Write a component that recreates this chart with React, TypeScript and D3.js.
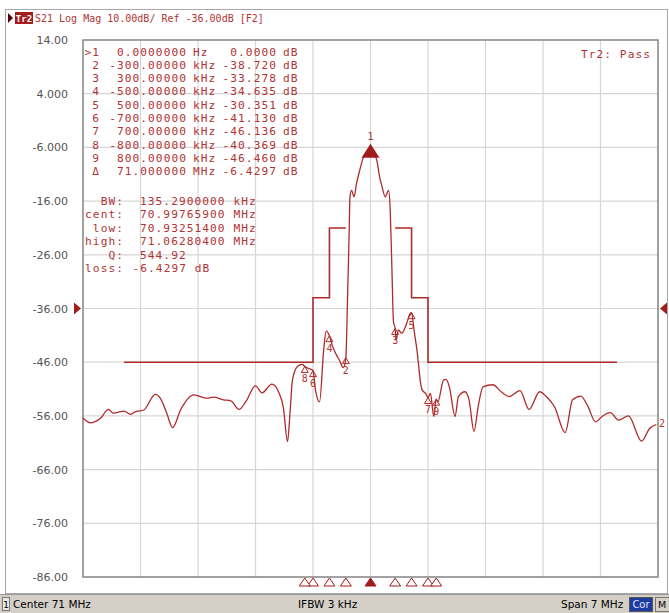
import React from "react";
import * as d3 from "d3";

// ---- data ----
const yTickValues = [14, 4, -6, -16, -26, -36, -46, -56, -66, -76, -86];
const yTickLabels = ["14.00", "4.000", "-6.000", "-16.00", "-26.00", "-36.00", "-46.00", "-56.00", "-66.00", "-76.00", "-86.00"];

const traceFreqMHz = [
  67.50, 67.59, 67.71, 67.81, 67.87, 68.00, 68.08, 68.14, 68.24, 68.38, 68.44, 68.52, 68.59, 68.69, 68.85,
  69.01, 69.09, 69.21, 69.30, 69.40, 69.48, 69.60, 69.68, 69.80, 69.88, 69.94, 69.99, 70.02, 70.05, 70.11,
  70.17, 70.20, 70.25, 70.30, 70.33, 70.38, 70.43, 70.46, 70.50, 70.54, 70.58, 70.62, 70.67, 70.70, 70.72,
  70.74, 70.75, 70.77, 70.80, 70.83, 70.87, 70.91, 70.96, 71.00, 71.04, 71.08, 71.11, 71.14, 71.18, 71.22,
  71.24, 71.26, 71.28, 71.30, 71.31, 71.34, 71.38, 71.44, 71.48, 71.50, 71.53, 71.57, 71.61, 71.63, 71.67,
  71.70, 71.73, 71.77, 71.80, 71.82, 71.89, 71.92, 71.96, 72.03, 72.07, 72.15, 72.20, 72.26, 72.31, 72.37,
  72.49, 72.59, 72.69, 72.82, 72.93, 73.06, 73.14, 73.24, 73.37, 73.46, 73.56, 73.64, 73.74, 73.82, 73.92,
  74.02, 74.14, 74.30, 74.40, 74.48,
];
const traceDb = [
  -56.4, -57.3, -56.5, -54.8, -55.5, -55.1, -55.7, -55.2, -54.9, -52.0, -52.7, -55.5, -58.2, -54.8, -52.1,
  -52.7, -52.5, -53.0, -53.2, -54.8, -53.4, -50.4, -51.7, -50.1, -51.5, -54.5, -60.8, -55.5, -49.3, -46.8,
  -46.4, -46.8, -47.2, -47.56, -51.2, -53.4, -43.7, -40.2, -41.06, -43.1, -44.5, -45.6, -47.0, -45.15, -34.4,
  -22.0, -15.2, -14.0, -15.2, -12.7, -10.2, -8.0, -6.7, -6.43, -7.0, -8.6, -11.4, -13.3, -15.2, -14.0,
  -17.7, -28.2, -38.5, -39.71, -41.9, -40.0, -40.6, -38.8, -37.0, -36.78, -40.0, -44.3, -49.9, -51.2, -51.8,
  -52.57, -51.8, -56.1, -52.89, -53.4, -49.3, -49.2, -50.6, -56.1, -52.4, -51.5, -53.0, -58.9, -54.3, -50.6,
  -50.2, -51.5, -52.4, -51.3, -54.8, -51.5, -52.4, -54.3, -59.1, -53.0, -52.3, -54.0, -57.1, -56.1, -55.4,
  -56.8, -56.0, -60.7, -58.3, -57.6,
];

const limitLeftFreq = [68.0, 70.3, 70.3, 70.5, 70.5, 70.7];
const limitLeftDb = [-46, -46, -34, -34, -21, -21];
const limitRightFreq = [71.3, 71.5, 71.5, 71.7, 71.7, 74.0];
const limitRightDb = [-21, -21, -34, -34, -46, -46];

const markerIds = ["1", "2", "3", "4", "5", "6", "7", "8", "9"];
const markerOffsetKHz = [0, -300, 300, -500, 500, -700, 700, -800, 800];
const markerRelDb = [0, -38.72, -33.278, -34.635, -30.351, -41.13, -46.136, -40.369, -46.46];
const refMarkerDb = -6.4297;
const centerMHz = 71;
const spanMHz = 7;
const refLevelDb = -36;

const tableIds = [">1", "2", "3", "4", "5", "6", "7", "8", "9", "\u0394"];
const tableFreq = ["0.0000000", "-300.00000", "300.00000", "-500.00000", "500.00000", "-700.00000", "700.00000", "-800.00000", "800.00000", "71.000000"];
const tableUnit = ["Hz", "kHz", "kHz", "kHz", "kHz", "kHz", "kHz", "kHz", "kHz", "MHz"];
const tableVal = ["0.0000", "-38.720", "-33.278", "-34.635", "-30.351", "-41.130", "-46.136", "-40.369", "-46.460", "-6.4297"];

const statLabels = ["BW:", "cent:", "low:", "high:", "Q:", "loss:"];
const statValues = ["135.2900000 kHz", "70.99765900 MHz", "70.93251400 MHz", "71.06280400 MHz", "544.92", "-6.4297 dB"];

const RED = "#b02a2a";
const TXT = "#b03434";
const MONO = "'DejaVu Sans Mono', 'Liberation Mono', monospace";
const SANS = "'DejaVu Sans', 'Liberation Sans', sans-serif";

export default function App() {
  const L = 83, R = 658, T = 40, B = 577;
  const x = d3.scaleLinear().domain([centerMHz - spanMHz / 2, centerMHz + spanMHz / 2]).range([L, R]);
  const y = d3.scaleLinear().domain([-86, 14]).range([B, T]);

  const xGrid = d3.range(11).map((i) => centerMHz - spanMHz / 2 + (i * spanMHz) / 10);

  const line = d3
    .line<number>()
    .x((_, i) => x(traceFreqMHz[i]))
    .y((d) => y(d))
    .curve(d3.curveMonotoneX);
  const limPath = (fs: number[], ds: number[]) =>
    d3.line<number>().x((f) => x(f)).y((_, i) => y(ds[i]))(fs) || "";

  const markers = markerIds.map((id, i) => {
    const f = centerMHz + markerOffsetKHz[i] / 1000;
    const db = refMarkerDb + markerRelDb[i];
    return { id, px: x(f), py: y(db) };
  });

  const rowY0 = 55.5;
  const rowDy = 13.33;
  const statY0 = 205;
  const statDy = 13.4;
  const tFont = 11.2;
  const tSpace = 1.05;

  return (
    <svg
      width={669}
      height={613}
      viewBox="0 0 669 613"
      style={{ position: "absolute", left: 0, top: 0, background: "#fff" }}
    >
      <rect x={0} y={0} width={669} height={613} fill="#fff" />
      {/* outer frame */}
      <rect x={5.5} y={9.5} width={662} height={584} fill="#fff" stroke="#a8a8a8" strokeWidth={1} />

      {/* title */}
      <path d="M8,13 L13,18 L8,23 Z" fill="#5a0000" />
      <rect x={15} y={12} width={18} height={12} fill="#a51c1c" />
      <text x={24} y={21.5} fontFamily={MONO} fontSize={9} fill="#fff" textAnchor="middle" fontWeight="bold">Tr2</text>
      <text x={35} y={22} fontFamily={MONO} fontSize={10} fill={TXT}>S21 Log Mag 10.00dB/ Ref -36.00dB [F2]</text>

      {/* grid */}
      {xGrid.map((f, i) => (
        <line key={"gx" + i} x1={x(f)} x2={x(f)} y1={T} y2={B} stroke="#d6d6d6" strokeWidth={1.2} />
      ))}
      {yTickValues.map((v, i) => (
        <line key={"gy" + i} x1={L} x2={R} y1={y(v)} y2={y(v)} stroke="#d6d6d6" strokeWidth={1.2} />
      ))}
      <rect x={L} y={T} width={R - L} height={B - T} fill="none" stroke="#8a8a8a" strokeWidth={1.5} />

      {/* y labels */}
      {yTickValues.map((v, i) => (
        <text key={"yl" + i} x={68} y={y(v) + 4} fontFamily={SANS} fontSize={11} fill="#555" textAnchor="end">
          {yTickLabels[i]}
        </text>
      ))}

      {/* ref level arrows */}
      <path d={`M74,${y(refLevelDb) - 6} L81,${y(refLevelDb)} L74,${y(refLevelDb) + 6} Z`} fill="#a51c1c" />
      <path d={`M667,${y(refLevelDb) - 6} L660,${y(refLevelDb)} L667,${y(refLevelDb) + 6} Z`} fill="#a51c1c" />

      {/* limit lines */}
      <path d={limPath(limitLeftFreq, limitLeftDb)} fill="none" stroke={RED} strokeWidth={1.6} />
      <path d={limPath(limitRightFreq, limitRightDb)} fill="none" stroke={RED} strokeWidth={1.6} />

      {/* trace */}
      <path d={line(traceDb) || ""} fill="none" stroke={RED} strokeWidth={1.3} strokeLinejoin="round" />
      <text x={659} y={y(-57.6) + 3} fontFamily={MONO} fontSize={10} fill={TXT}>2</text>

      {/* trace markers */}
      {markers.map((m, i) =>
        i === 0 ? (
          <g key={"m" + i}>
            <path d={`M${m.px},${m.py - 6} L${m.px + 9},${m.py + 8} L${m.px - 9},${m.py + 8} Z`} fill="#a01c1c" />
            <text x={m.px} y={m.py - 10} fontFamily={MONO} fontSize={10} fill={TXT} textAnchor="middle">1</text>
          </g>
        ) : (
          <g key={"m" + i}>
            <path d={`M${m.px},${m.py} L${m.px + 3.5},${m.py + 6} L${m.px - 3.5},${m.py + 6} Z`} fill="none" stroke={RED} strokeWidth={1} />
            <text x={m.px} y={m.py + 16} fontFamily={MONO} fontSize={10} fill={TXT} textAnchor="middle">{m.id}</text>
          </g>
        )
      )}

      {/* bottom marker indicators */}
      {markers.map((m, i) => (
        <path
          key={"bm" + i}
          d={`M${m.px},${B + 1} L${m.px + 5.5},${B + 9} L${m.px - 5.5},${B + 9} Z`}
          fill={i === 0 ? "#a01c1c" : "#fff"}
          stroke="#a01c1c"
          strokeWidth={1}
        />
      ))}

      {/* marker table */}
      {tableIds.map((id, i) => {
        const yy = rowY0 + i * rowDy;
        return (
          <g key={"row" + i} fontFamily={MONO} fontSize={tFont} letterSpacing={tSpace} fill={TXT}>
            <text x={100} y={yy} textAnchor="end">{id}</text>
            <text x={187} y={yy} textAnchor="end">{tableFreq[i]}</text>
            <text x={193} y={yy}>{tableUnit[i]}</text>
            <text x={277} y={yy} textAnchor="end">{tableVal[i]}</text>
            <text x={283} y={yy}>dB</text>
          </g>
        );
      })}
      {statLabels.map((lab, i) => {
        const yy = statY0 + i * statDy;
        const v = statValues[i];
        return (
          <g key={"st" + i} fontFamily={MONO} fontSize={tFont} letterSpacing={tSpace} fill={TXT}>
            <text x={124} y={yy} textAnchor="end">{lab}</text>
            <text x={v.startsWith("-") ? 132.5 : 140} y={yy}>{v}</text>
          </g>
        );
      })}
      <text x={651} y={58} fontFamily={MONO} fontSize={tFont} letterSpacing={tSpace} fill={TXT} textAnchor="end">Tr2: Pass</text>

      {/* status bar */}
      <rect x={0} y={594} width={669} height={19} fill="#d4d0c8" />
      <line x1={0} x2={669} y1={594.5} y2={594.5} stroke="#9a9a9a" />
      <rect x={2.5} y={597.5} width={7} height={13} fill="#e8e8e8" stroke="#777" />
      <text x={6} y={608} fontFamily={SANS} fontSize={9} fill="#000" textAnchor="middle">1</text>
      <text x={13} y={608} fontFamily={SANS} fontSize={10.5} fill="#000">Center 71 MHz</text>
      <text x={298} y={608} fontFamily={SANS} fontSize={10.5} fill="#000">IFBW 3 kHz</text>
      <text x={561} y={608} fontFamily={SANS} fontSize={10.5} fill="#000">Span 7 MHz</text>
      <rect x={629.5} y={597.5} width={23} height={14} fill="#1e3c9e" stroke="#555" />
      <text x={641} y={608} fontFamily={SANS} fontSize={10} fill="#dfe4ff" textAnchor="middle">Cor</text>
      <rect x={655.5} y={597.5} width={14} height={14} fill="#d4d0c8" stroke="#777" />
      <text x={662} y={608} fontFamily={SANS} fontSize={9.5} fill="#000" textAnchor="middle">M</text>
    </svg>
  );
}
